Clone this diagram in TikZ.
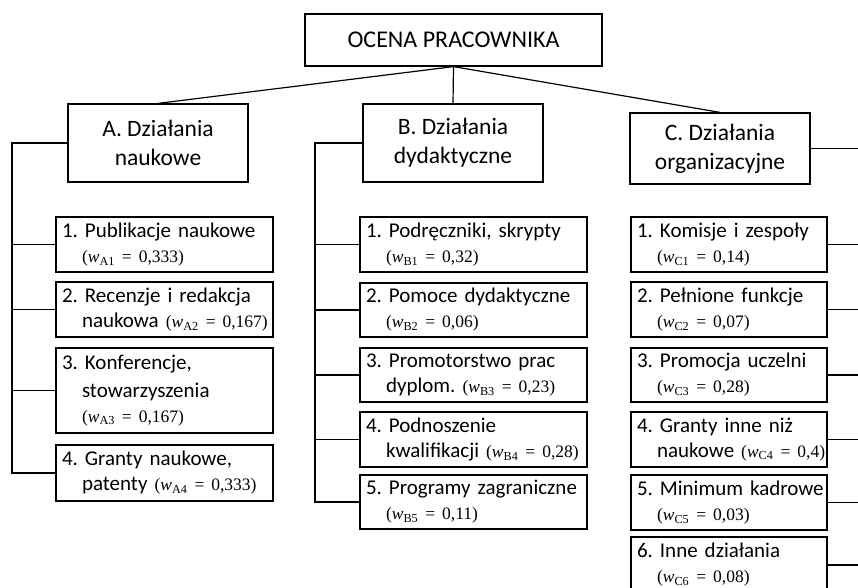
\documentclass[tikz,border=0pt]{standalone}
\usepackage{fontspec}
\setmainfont{Carlito}
\newfontfamily\tnr{Liberation Serif}
\newcommand{\wt}[2]{{\tnr\fontsize{17.5}{20}\selectfont(\textit{w}\textsubscript{#1} = #2)}}
\newcommand{\hng}{\hspace*{20pt}}
\newcommand{\itm}[2]{\mbox{#1}\\\hng\mbox{#2}}
\frenchspacing
\begin{document}
\begin{tikzpicture}[x=1pt,y=-1pt,
  box/.style={draw, line width=1.2pt, inner sep=0pt},
  topbox/.style={box, minimum width=297pt, minimum height=52pt, font=\fontsize{24}{29}\selectfont\frenchspacing},
  cat/.style={box, minimum width=180pt, align=center, font=\fontsize{23.5}{29}\selectfont\frenchspacing},
  item/.style={box, inner xsep=6pt, align=left, font=\fontsize{21}{25}\selectfont\frenchspacing},
  itemA/.style={item, text width=205pt},
  itemB/.style={item, text width=215pt},
  itemC/.style={item, text width=184pt},
  conn/.style={line width=1.2pt}]
\useasboundingbox (0,0) rectangle (858,588);
\clip (0,0) rectangle (858,588);

\node[topbox] (top) at (453.5,40) {OCENA PRACOWNIKA};
\node[cat, minimum height=78pt] (A) at (158,143) {A. Działania\\naukowe};
\node[cat, minimum height=78pt] (B) at (453,143) {B. Działania\\dydaktyczne};
\node[cat, minimum height=71pt] (C) at (720,148.5) {C. Działania\\organizacyjne};

\draw[conn] (top.south) -- (A.north);
\draw[conn] (top.south) -- (B.north);
\draw[conn] (top.south) -- (C.north);

% A items
\node[itemA, minimum height=55pt] (A1) at (164.5,244.5) {\itm{1. Publikacje naukowe}{\wt{A1}{0,333}}};
\node[itemA, minimum height=55pt] (A2) at (164.5,309.5) {\itm{2. Recenzje i redakcja}{naukowa \wt{A2}{0,167}}};
\node[itemA, minimum height=85pt] (A3) at (164.5,390.5) {\mbox{3. Konferencje,}\\[3pt]\hng\mbox{stowarzyszenia}\\\hng\mbox{\wt{A3}{0,167}}};
\node[itemA, minimum height=56pt] (A4) at (164.5,473) {\itm{4. Granty naukowe,}{patenty \wt{A4}{0,333}}};

% B items
\node[itemB, minimum height=55pt] (B1) at (473.5,244.5) {\itm{1. Podręczniki, skrypty}{\wt{B1}{0,32}}};
\node[itemB, minimum height=54pt] (B2) at (473.5,310) {\itm{2. Pomoce dydaktyczne}{\wt{B2}{0,06}}};
\node[itemB, minimum height=54pt] (B3) at (473.5,375) {\itm{3. Promotorstwo prac}{dyplom. \wt{B3}{0,23}}};
\node[itemB, minimum height=55pt] (B4) at (473.5,439.5) {\itm{4. Podnoszenie}{kwalifikacji \wt{B4}{0,28}}};
\node[itemB, minimum height=54pt] (B5) at (473.5,502) {\itm{5. Programy zagraniczne}{\wt{B5}{0,11}}};

% C items
\node[itemC, minimum height=55pt] (C1) at (729,244.5) {\itm{1. Komisje i zespoły}{\wt{C1}{0,14}}};
\node[itemC, minimum height=55pt] (C2) at (729,309.5) {\itm{2. Pełnione funkcje}{\wt{C2}{0,07}}};
\node[itemC, minimum height=54pt] (C3) at (729,375) {\itm{3. Promocja uczelni}{\wt{C3}{0,28}}};
\node[itemC, minimum height=55pt] (C4) at (729,439.5) {\itm{4. Granty inne niż}{naukowe \wt{C4}{0,4}}};
\node[itemC, minimum height=55pt] (C5) at (729,502.5) {\itm{5. Minimum kadrowe}{\wt{C5}{0,03}}};
\node[itemC, minimum height=56pt] (C6) at (729,565) {\itm{6. Inne działania}{\wt{C6}{0,08}}};

% A connectors
\coordinate (aL) at (12,143);
\draw[conn] (A.west) -- (aL) |- (A4.west);
\foreach \n in {A1,A2,A3}{\draw[conn] (\n.west) -- (aL |- \n.west);}

% B connectors
\coordinate (bL) at (315,143);
\draw[conn] (B.west) -- (bL) |- (B5.west);
\foreach \n in {B1,B2,B3,B4}{\draw[conn] (\n.west) -- (bL |- \n.west);}

% C connectors
\coordinate (cR) at (862,148.5);
\draw[conn] (C.east) -- (cR);
\foreach \n in {C1,C2,C3,C4,C5,C6}{\draw[conn] (\n.east) -- (cR |- \n.east);}
\end{tikzpicture}
\end{document}
